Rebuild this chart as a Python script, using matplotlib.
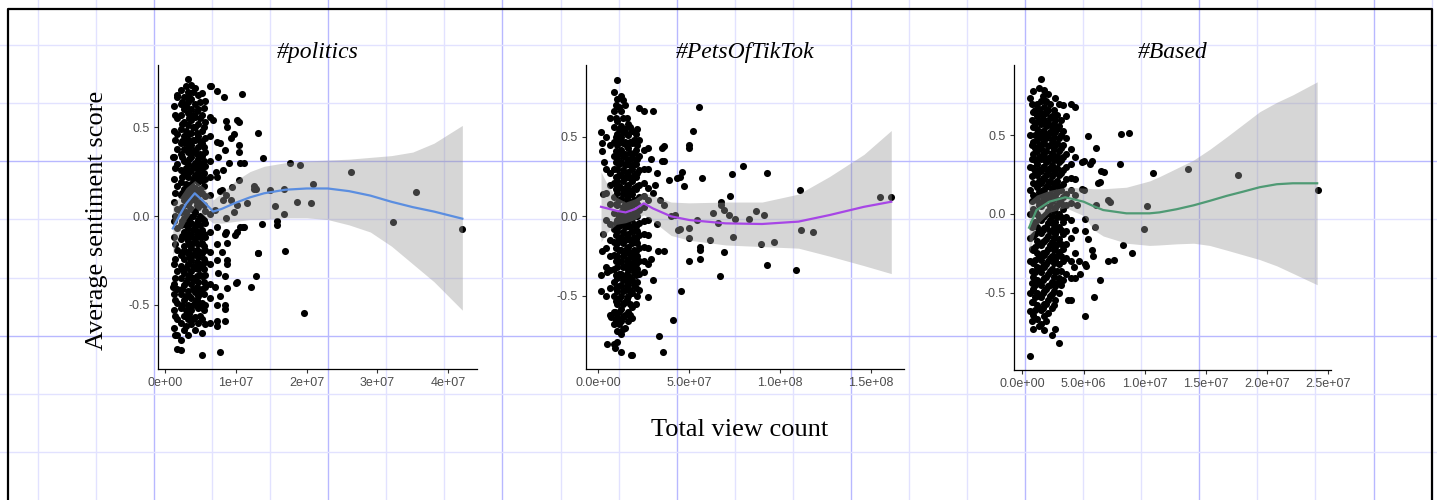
import numpy as np
import matplotlib
matplotlib.use("Agg")
import matplotlib.pyplot as plt

# ---------------- data (x in millions of views for #politics / #Based, x in 1e7 for #PetsOfTikTok)

# #politics : dense cluster, one list of sentiment values per view-count column
pol_col_x = [1.2, 1.45, 1.7, 2.2, 2.45, 2.7, 2.95, 3.2, 3.45, 3.7, 3.95, 4.2, 4.45, 4.7, 4.95,
             5.2, 5.45, 5.7, 6.3]
pol_col_y = [
    [0.62, 0.48, 0.33, 0.21, 0.08, -0.03, -0.12, -0.27, -0.38, -0.44, -0.53, -0.63],
    [0.57, 0.43, 0.27, 0.13, 0.0, -0.16, -0.24, -0.35, -0.47, -0.56],
    [0.68, 0.55, 0.46, 0.38, 0.29, 0.17, 0.04, -0.07, -0.19, -0.31, -0.41, -0.49, -0.58, -0.67, -0.75],
    [0.71, 0.63, 0.57, 0.49, 0.41, 0.35, 0.26, 0.19, 0.12, 0.02, -0.05, -0.13, -0.22, -0.28, -0.35, -0.44, -0.52, -0.6, -0.7],
    [0.64, 0.52, 0.42, 0.33, 0.22, 0.13, 0.05, -0.03, -0.11, -0.2, -0.3, -0.41, -0.5],
    [0.67, 0.6, 0.53, 0.45, 0.38, 0.31, 0.24, 0.15, 0.09, -0.01, -0.09, -0.17, -0.24, -0.32, -0.39, -0.47, -0.56, -0.64],
    [0.73, 0.62, 0.48, 0.41, 0.27, 0.18, 0.11, 0.02, -0.05, -0.12, -0.2, -0.29, -0.37, -0.45, -0.53, -0.62],
    [0.77, 0.7, 0.64, 0.58, 0.51, 0.43, 0.36, 0.29, 0.22, 0.14, 0.06, 0.0, -0.07, -0.14, -0.2, -0.27, -0.35, -0.42, -0.5, -0.58, -0.67],
    [0.67, 0.55, 0.46, 0.39, 0.32, 0.25, 0.16, 0.08, -0.02, -0.1, -0.16, -0.23, -0.33, -0.45, -0.55],
    [0.74, 0.66, 0.6, 0.54, 0.47, 0.4, 0.33, 0.26, 0.18, 0.11, 0.04, -0.04, -0.11, -0.18, -0.25, -0.31, -0.38, -0.46, -0.53, -0.61],
    [0.7, 0.57, 0.5, 0.43, 0.36, 0.28, 0.21, 0.14, 0.0, -0.08, -0.15, -0.22, -0.28, -0.35, -0.41, -0.5, -0.58],
    [0.72, 0.63, 0.56, 0.5, 0.43, 0.37, 0.3, 0.23, 0.16, 0.09, 0.02, -0.06, -0.13, -0.21, -0.29, -0.36, -0.43, -0.49, -0.57, -0.64],
    [0.59, 0.47, 0.35, 0.27, 0.2, 0.13, 0.06, -0.04, -0.1, -0.19, -0.26, -0.34, -0.4, -0.47],
    [0.68, 0.6, 0.52, 0.45, 0.39, 0.32, 0.25, 0.19, 0.12, 0.05, -0.02, -0.09, -0.16, -0.23, -0.3, -0.37, -0.45, -0.52, -0.6],
    [0.64, 0.55, 0.42, 0.35, 0.29, 0.22, 0.15, 0.08, 0.0, -0.05, -0.12, -0.2, -0.27, -0.33, -0.43, -0.5, -0.56],
    [0.69, 0.57, 0.48, 0.41, 0.34, 0.27, 0.2, 0.13, 0.07, -0.01, -0.08, -0.15, -0.21, -0.28, -0.34, -0.41, -0.49, -0.58, -0.66],
    [0.61, 0.5, 0.39, 0.31, 0.24, 0.17, 0.06, -0.02, -0.1, -0.17, -0.24, -0.3, -0.37, -0.44, -0.53],
    [0.65, 0.53, 0.44, 0.36, 0.28, 0.21, 0.11, 0.03, -0.04, -0.12, -0.19, -0.26, -0.33, -0.4, -0.5, -0.61],
    [0.73, 0.56, 0.45, 0.31, 0.22, 0.12, 0.01, -0.09, -0.2, -0.27, -0.38, -0.46, -0.6],
]
# #politics : scattered points (views in millions, sentiment)
pol_pts = [
    (6.45, 0.732), (7.39, 0.704), (8.33, 0.672), (10.9, 0.685), (6.83, 0.54), (8.57, 0.537),
    (10.5, 0.531), (8.8, 0.499), (9.79, 0.462), (13.1, 0.469), (7.77, 0.409), (9.32, 0.437),
    (10.5, 0.40), (13.8, 0.325), (11.1, 0.297), (7.53, 0.334), (17.6, 0.30), (19.1, 0.287),
    (26.3, 0.249), (35.5, 0.133), (20.9, 0.182), (16.8, 0.154), (14.8, 0.146), (12.5, 0.17),
    (12.7, 0.16), (12.9, 0.15), (11.6, 0.075), (15.5, 0.056), (18.6, 0.079), (20.6, 0.073),
    (16.8, 0.011), (32.2, -0.032), (42.0, -0.075), (13.7, -0.045), (15.8, -0.03), (15.8, -0.05),
    (11.0, -0.06), (10.6, -0.06), (9.9, -0.107), (10.1, -0.09), (8.6, -0.09), (8.7, -0.154),
    (13.1, -0.206), (16.9, -0.195), (12.9, -0.338), (12.2, -0.398), (10.0, -0.379), (8.8, -0.407),
    (19.7, -0.548), (8.5, -0.525), (8.5, -0.59), (7.3, -0.59), (7.3, -0.62), (7.77, -0.764),
    (5.18, -0.783), (2.26, -0.754), (1.41, -0.67), (8.7, -0.27), (8.7, -0.25), (9.4, 0.165),
    (10.5, 0.2), (8.57, -0.01), (9.8, 0.02), (10.1, 0.06), (9.3, 0.09), (8.6, 0.12), (7.7, 0.14),
    (8.2, 0.26), (7.2, 0.25), (9.1, 0.30), (1.08, 0.334), (1.65, 0.672), (1.08, -0.398),
    (7.3, 0.418), (8.47, 0.37), (7.3, 0.22), (8.0, 0.146), (8.2, 0.09), (7.06, 0.034),
    (7.3, -0.06), (8.5, -0.1), (7.3, -0.155), (8.0, -0.2), (7.3, -0.25), (7.5, -0.32),
    (8.5, -0.34), (7.06, -0.4), (7.8, -0.45), (8.5, -0.5), (7.3, -0.5), (10.1, 0.54),
    (10.4, 0.36), (10.6, 0.30), (12.6, 0.15), (11.1, -0.06), (13.2, -0.21), (10.1, -0.37),
]
pol_fit_x = [1.1, 2.0, 3.0, 4.2, 5.5, 6.8, 8, 10, 12, 14, 17, 20, 23, 26, 29, 32, 35, 38, 42]
pol_fit = [-0.07, 0.0, 0.07, 0.128, 0.08, 0.025, 0.04, 0.075, 0.105, 0.128, 0.148, 0.155, 0.155,
           0.14, 0.115, 0.08, 0.05, 0.025, -0.015]
pol_hi = [0.08, 0.1, 0.16, 0.2, 0.16, 0.09, 0.13, 0.2, 0.25, 0.28, 0.3, 0.31, 0.315, 0.32, 0.33,
          0.34, 0.36, 0.41, 0.51]
pol_lo = [-0.22, -0.1, -0.02, 0.05, 0.0, -0.04, -0.04, -0.03, -0.02, -0.02, -0.01, -0.01, -0.02,
          -0.05, -0.09, -0.17, -0.27, -0.37, -0.53]

# #PetsOfTikTok (views in 1e7)
pets_col_x = [0.45, 0.65, 0.85, 0.95, 1.05, 1.15, 1.25, 1.35, 1.45, 1.55, 1.65, 1.75, 1.85, 1.95,
              2.05, 2.15, 2.25, 2.5, 2.75]
pets_col_y = [
    [0.5, 0.3, 0.15, -0.02, -0.2, -0.32, -0.5],
    [0.62, 0.45, 0.27, 0.2, 0.08, -0.05, -0.15, -0.25, -0.34, -0.45, -0.62],
    [0.78, 0.66, 0.56, 0.47, 0.38, 0.3, 0.21, 0.12, 0.02, -0.08, -0.16, -0.24, -0.33, -0.41, -0.5, -0.6, -0.68, -0.8],
    [0.7, 0.62, 0.5, 0.41, 0.34, 0.25, 0.17, 0.08, -0.04, -0.12, -0.2, -0.28, -0.37, -0.45, -0.53, -0.65],
    [0.86, 0.74, 0.6, 0.52, 0.45, 0.37, 0.3, 0.22, 0.15, 0.07, -0.02, -0.09, -0.17, -0.25, -0.32, -0.39, -0.47, -0.55, -0.63, -0.72, -0.79],
    [0.69, 0.55, 0.48, 0.4, 0.33, 0.26, 0.19, 0.1, 0.0, -0.06, -0.14, -0.21, -0.29, -0.36, -0.44, -0.52, -0.6, -0.68],
    [0.76, 0.66, 0.57, 0.5, 0.42, 0.34, 0.26, 0.18, 0.11, 0.03, -0.05, -0.13, -0.21, -0.28, -0.36, -0.43, -0.5, -0.58, -0.66, -0.74, -0.85],
    [0.73, 0.62, 0.53, 0.46, 0.38, 0.29, 0.22, 0.14, 0.06, -0.02, -0.1, -0.17, -0.25, -0.32, -0.4, -0.47, -0.55, -0.63, -0.71],
    [0.7, 0.55, 0.47, 0.39, 0.32, 0.24, 0.16, 0.08, 0.0, -0.07, -0.15, -0.23, -0.31, -0.39, -0.46, -0.54, -0.62, -0.7],
    [0.62, 0.52, 0.44, 0.36, 0.27, 0.19, 0.11, 0.03, -0.05, -0.12, -0.2, -0.28, -0.36, -0.44, -0.52],
    [0.58, 0.51, 0.43, 0.35, 0.28, 0.2, 0.13, 0.05, -0.03, -0.11, -0.19, -0.27, -0.34, -0.42, -0.5, -0.6, -0.66],
    [0.56, 0.47, 0.4, 0.32, 0.24, 0.16, 0.09, 0.01, -0.07, -0.15, -0.23, -0.3, -0.38, -0.46, -0.55, -0.62],
    [0.54, 0.46, 0.37, 0.3, 0.22, 0.14, 0.07, -0.01, -0.09, -0.17, -0.25, -0.32, -0.4, -0.48, -0.57, -0.64, -0.87],
    [0.48, 0.4, 0.33, 0.26, 0.18, 0.1, 0.03, -0.05, -0.13, -0.21, -0.28, -0.35, -0.43],
    [0.52, 0.42, 0.33, 0.25, 0.17, 0.1, 0.02, -0.06, -0.14, -0.22, -0.3, -0.37, -0.45, -0.55],
    [0.55, 0.45, 0.36, 0.27, 0.19, 0.08, 0.0, -0.09, -0.17, -0.25, -0.33, -0.41, -0.5],
    [0.68, 0.48, 0.38, 0.29, 0.2, 0.12, 0.04, -0.04, -0.12, -0.2, -0.28, -0.36, -0.46],
    [0.66, 0.42, 0.3, 0.21, 0.13, 0.06, -0.03, -0.11, -0.19, -0.28, -0.35],
    [0.43, 0.3, 0.18, 0.1, -0.02, -0.12, -0.2, -0.3, -0.51],
]
pets_pts = [
    (5.55, 0.69), (5.2, 0.54), (5.0, 0.45), (5.0, 0.43), (5.71, 0.243), (4.6, 0.28), (4.5, 0.25),
    (4.3, 0.24), (4.7, 0.19), (3.5, 0.43), (3.5, 0.35), (3.0, 0.66), (7.93, 0.316), (9.29, 0.275),
    (7.33, 0.264), (7.24, 0.13), (11.08, 0.165), (15.48, 0.12), (16.08, 0.124), (6.74, 0.092),
    (6.74, 0.07), (6.28, 0.023), (6.92, 0.04), (7.18, 0.008), (8.65, 0.035), (9.12, 0.008),
    (7.51, -0.019), (8.28, -0.019), (6.56, -0.04), (5.4, -0.02), (11.14, -0.086), (11.81, -0.099),
    (6.14, -0.149), (7.38, -0.128), (9.67, -0.162), (8.94, -0.174), (6.92, -0.222), (4.97, -0.139),
    (5.0, -0.076), (5.59, -0.19), (5.59, -0.21), (5.6, -0.268), (5.0, -0.28), (6.69, -0.375),
    (9.25, -0.306), (10.85, -0.338), (4.54, -0.47), (4.12, -0.652), (3.35, -0.753), (3.57, -0.85),
    (4.4, -0.086), (4.5, -0.08), (4.0, 0.0), (4.2, 0.01), (0.15, 0.53), (0.2, 0.46), (0.2, 0.41),
    (0.3, 0.34), (0.24, 0.14), (0.24, -0.11), (0.2, -0.22), (0.15, -0.37), (0.5, -0.35),
    (0.15, -0.47), (0.7, -0.63), (0.9, -0.6), (0.5, -0.8), (0.9, -0.83), (1.8, -0.87), (3.6, 0.44),
    (3.6, 0.35), (3.9, 0.23), (3.6, 0.07), (3.6, -0.22), (3.3, -0.22), (2.9, -0.27), (3.2, -0.05),
    (3.4, 0.1), (3.0, 0.15), (3.2, 0.27), (3.0, -0.4), (2.9, 0.36), (3.1, 0.2),
]
pets_fit_x = [0.15, 0.5, 1.0, 1.5, 2.0, 2.5, 3.0, 4.0, 5.0, 7.0, 9.0, 11.0, 12.7, 14.6, 16.1]
pets_fit = [0.06, 0.05, 0.035, 0.025, 0.045, 0.082, 0.05, 0.0, -0.023, -0.044, -0.048, -0.033,
            0.008, 0.06, 0.092]
pets_hi = [0.28, 0.2, 0.12, 0.09, 0.11, 0.15, 0.13, 0.09, 0.085, 0.09, 0.09, 0.14, 0.25, 0.39, 0.54]
pets_lo = [-0.16, -0.1, -0.05, -0.04, -0.02, 0.01, -0.03, -0.12, -0.15, -0.18, -0.19, -0.2, -0.25,
           -0.31, -0.36]

# #Based (views in millions)
based_col_x = [0.6, 0.75, 0.9, 1.05, 1.2, 1.35, 1.5, 1.65, 1.8, 1.95, 2.1, 2.25, 2.4, 2.55, 2.7,
               2.85, 3.0, 3.15, 3.3, 3.6, 3.95, 4.3]
based_col_y = [
    [0.74, 0.5, 0.3, 0.15, 0.0, -0.15, -0.3, -0.5, -0.62, -0.9],
    [0.7, 0.6, 0.44, 0.35, 0.24, 0.08, -0.08, -0.22, -0.36, -0.44, -0.56, -0.68],
    [0.78, 0.65, 0.55, 0.46, 0.38, 0.29, 0.2, 0.12, 0.03, -0.06, -0.14, -0.23, -0.31, -0.4, -0.48, -0.56, -0.64, -0.73],
    [0.66, 0.58, 0.5, 0.42, 0.34, 0.27, 0.19, 0.11, 0.02, -0.05, -0.13, -0.21, -0.29, -0.37, -0.45, -0.53, -0.61],
    [0.7, 0.62, 0.54, 0.47, 0.4, 0.32, 0.25, 0.17, 0.09, 0.0, -0.08, -0.17, -0.25, -0.34, -0.42, -0.5, -0.58, -0.67],
    [0.8, 0.67, 0.6, 0.51, 0.44, 0.36, 0.28, 0.21, 0.14, 0.06, -0.02, -0.1, -0.19, -0.27, -0.35, -0.43, -0.52, -0.6, -0.71],
    [0.86, 0.72, 0.64, 0.57, 0.49, 0.42, 0.35, 0.27, 0.2, 0.12, 0.05, -0.04, -0.12, -0.2, -0.29, -0.37, -0.45, -0.53, -0.61, -0.7],
    [0.75, 0.63, 0.53, 0.45, 0.38, 0.3, 0.23, 0.15, 0.08, -0.02, -0.1, -0.18, -0.25, -0.33, -0.42, -0.5, -0.6],
    [0.79, 0.68, 0.6, 0.52, 0.45, 0.37, 0.3, 0.22, 0.14, 0.07, -0.01, -0.09, -0.17, -0.26, -0.34, -0.41, -0.49, -0.57, -0.65, -0.74],
    [0.72, 0.64, 0.56, 0.48, 0.4, 0.33, 0.25, 0.17, 0.1, 0.0, -0.08, -0.16, -0.24, -0.32, -0.4, -0.48, -0.57, -0.68],
    [0.76, 0.66, 0.58, 0.5, 0.43, 0.34, 0.27, 0.19, 0.11, 0.02, -0.06, -0.14, -0.22, -0.3, -0.38, -0.46, -0.55, -0.63],
    [0.7, 0.61, 0.52, 0.44, 0.36, 0.29, 0.21, 0.13, 0.05, -0.04, -0.11, -0.2, -0.28, -0.36, -0.45, -0.52],
    [0.62, 0.55, 0.47, 0.39, 0.31, 0.24, 0.16, 0.08, -0.01, -0.1, -0.18, -0.27, -0.35, -0.43, -0.51, -0.6, -0.77],
    [0.66, 0.57, 0.49, 0.41, 0.34, 0.26, 0.18, 0.1, 0.02, -0.07, -0.15, -0.23, -0.31, -0.4, -0.49, -0.58],
    [0.74, 0.6, 0.52, 0.44, 0.36, 0.28, 0.2, 0.12, 0.04, -0.05, -0.13, -0.21, -0.29, -0.37, -0.46, -0.55, -0.73],
    [0.63, 0.54, 0.45, 0.37, 0.29, 0.21, 0.14, 0.06, -0.02, -0.1, -0.19, -0.27, -0.36, -0.44],
    [0.7, 0.56, 0.48, 0.4, 0.33, 0.25, 0.17, 0.09, 0.0, -0.08, -0.16, -0.24, -0.32, -0.41, -0.5, -0.82],
    [0.6, 0.5, 0.42, 0.34, 0.26, 0.15, 0.07, -0.02, -0.1, -0.19, -0.27, -0.36, -0.45],
    [0.69, 0.53, 0.44, 0.36, 0.28, 0.19, 0.11, 0.03, -0.05, -0.13, -0.22, -0.3, -0.42],
    [0.62, 0.48, 0.38, 0.3, 0.22, 0.13, 0.06, -0.02, -0.11, -0.19, -0.28, -0.38],
    [0.7, 0.41, 0.32, 0.23, 0.15, 0.07, -0.04, -0.15, -0.3, -0.41, -0.55],
    [0.68, 0.36, 0.22, 0.12, -0.1, -0.25, -0.41],
]
based_pts = [
    (8.02, 0.507), (8.73, 0.513), (5.37, 0.496), (6.05, 0.417), (7.96, 0.318), (10.64, 0.263),
    (13.5, 0.284), (17.65, 0.248), (24.19, 0.153), (5.0, 0.339), (5.7, 0.339), (6.68, 0.269),
    (6.38, 0.206), (7.0, 0.089), (7.15, 0.078), (10.2, 0.049), (9.95, -0.097), (8.23, -0.197),
    (8.92, -0.25), (7.47, -0.29), (7.0, -0.3), (5.92, -0.08), (5.1, -0.034), (5.1, -0.11),
    (5.4, -0.16), (5.7, -0.23), (5.8, -0.27), (6.33, -0.42), (5.86, -0.53), (5.1, -0.646),
    (5.1, -0.32), (5.2, -0.33), (3.73, -0.55), (4.9, 0.16), (5.0, 0.15), (6.2, 0.2), (6.4, 0.27),
    (4.6, -0.3), (4.7, -0.38), (4.2, -0.34), (4.9, 0.33), (5.5, 0.32), (6.0, 0.06), (4.5, 0.06),
]
based_fit_x = [0.54, 1.15, 2.2, 3.5, 5.0, 5.8, 6.6, 8.5, 10.4, 11.2, 12.6, 14.0, 15.3, 16.7, 18.05,
               19.4, 20.8, 22.1, 24.1]
based_fit = [-0.087, 0.025, 0.078, 0.106, 0.078, 0.05, 0.025, 0.004, 0.004, 0.01, 0.03, 0.055,
             0.083, 0.115, 0.142, 0.17, 0.189, 0.195, 0.195]
based_hi = [0.08, 0.12, 0.15, 0.17, 0.165, 0.16, 0.16, 0.17, 0.21, 0.237, 0.29, 0.343, 0.41, 0.49,
            0.57, 0.65, 0.71, 0.757, 0.84]
based_lo = [-0.25, -0.07, 0.01, 0.04, -0.01, -0.1, -0.14, -0.186, -0.2, -0.197, -0.19, -0.186,
            -0.2, -0.23, -0.26, -0.29, -0.33, -0.377, -0.45]

titles = ["#politics", "#PetsOfTikTok", "#Based"]
x_units = [1e6, 1e7, 1e6]
x_ticks = [[0, 1e7, 2e7, 3e7, 4e7], [0, 5e7, 1e8, 1.5e8], [0, 5e6, 1e7, 1.5e7, 2e7, 2.5e7]]
x_ticklabels = [["0e+00", "1e+07", "2e+07", "3e+07", "4e+07"],
                ["0.0e+00", "5.0e+07", "1.0e+08", "1.5e+08"],
                ["0.0e+00", "5.0e+06", "1.0e+07", "1.5e+07", "2.0e+07", "2.5e+07"]]
y_ticks = [-0.5, 0.0, 0.5]
y_ticklabels = ["-0.5", "0.0", "0.5"]
line_colors = ["#5b8ee0", "#a746e6", "#4f9a74"]


def column_points(col_x, col_y):
    xs, ys = [], []
    for cx, cy in zip(col_x, col_y):
        xs += [cx] * len(cy)
        ys += cy
    return xs, ys


panels = []
for col_x, col_y, pts, fx, fy, hi, lo in [
        (pol_col_x, pol_col_y, pol_pts, pol_fit_x, pol_fit, pol_hi, pol_lo),
        (pets_col_x, pets_col_y, pets_pts, pets_fit_x, pets_fit, pets_hi, pets_lo),
        (based_col_x, based_col_y, based_pts, based_fit_x, based_fit, based_hi, based_lo)]:
    xs, ys = column_points(col_x, col_y)
    xs += [p[0] for p in pts]
    ys += [p[1] for p in pts]
    panels.append((xs, ys, fx, fy, hi, lo))

# ---------------- layout (pixel boxes of the three panels in a 1437x500 image)
W, H = 1437, 500
boxes = [(158, 477, 65, 369), (586, 904, 65, 369), (1014, 1331, 65, 370)]
xlims = [(-0.99e6, 44.07e6), (-0.676e7, 16.8e7), (-0.69e6, 25.23e6)]
ylims = [(-0.861, 0.850), (-0.960, 0.952), (-0.992, 0.947)]

fig = plt.figure(figsize=(W / 100, H / 100), dpi=100)
fig.patch.set_facecolor("white")

# background: page grid of the document the chart was pasted into
bg = fig.add_axes([0, 0, 1, 1], zorder=0)
bg.set_xlim(0, W)
bg.set_ylim(H, 0)
bg.axis("off")
for i, gx in enumerate(np.arange(37.9, W, 58.07)):
    major = (i % 3 == 2)
    bg.axvline(gx, color="#b8b8ff" if major else "#e2e2ff", lw=1.0)
for i, gy in enumerate(np.arange(44.8, H, 58.23)):
    major = (i % 3 == 2)
    bg.axhline(gy, color="#b8b8ff" if major else "#e2e2ff", lw=1.0)

tick_font = "Liberation Sans"
serif = "Liberation Serif"

for k, (xs, ys, fx, fy, hi, lo) in enumerate(panels):
    x0, x1, y0, y1 = boxes[k]
    ax = fig.add_axes([x0 / W, 1 - y1 / H, (x1 - x0) / W, (y1 - y0) / H], zorder=1)
    ax.set_facecolor("none")
    u = x_units[k]
    ax.scatter(np.array(xs) * u, ys, s=26, color="black", linewidths=0, zorder=2)
    ax.fill_between(np.array(fx) * u, lo, hi, color="#999999", alpha=0.4, linewidth=0, zorder=3)
    ax.plot(np.array(fx) * u, fy, color=line_colors[k], lw=1.6, zorder=4)

    ax.set_xlim(*xlims[k])
    ax.set_ylim(*ylims[k])
    ax.set_xticks(x_ticks[k])
    ax.set_xticklabels(x_ticklabels[k])
    ax.set_yticks(y_ticks)
    ax.set_yticklabels(y_ticklabels)
    for sp in ["top", "right"]:
        ax.spines[sp].set_visible(False)
    for sp in ["left", "bottom"]:
        ax.spines[sp].set_color("black")
        ax.spines[sp].set_linewidth(0.9)
    ax.tick_params(length=3, width=0.8, color="#333333", labelcolor="#4d4d4d",
                   labelsize=9, pad=3)
    for lab in ax.get_xticklabels() + ax.get_yticklabels():
        lab.set_fontfamily(tick_font)
    ax.set_title(titles[k], family=serif, style="italic", fontsize=17, pad=5)

fig.text(97 / W, 1 - 220 / H, "Average sentiment score", family=serif, fontsize=19,
         rotation=90, ha="center", va="center")
fig.text(740 / W, 1 - 430 / H, "Total view count", family=serif, fontsize=19,
         ha="center", va="center")

# black frame around the figure (page box)
top = fig.add_axes([0, 0, 1, 1], zorder=5)
top.set_xlim(0, W)
top.set_ylim(H, 0)
top.axis("off")
top.plot([8, 8, 1432, 1432], [H + 5, 9, 9, H + 5], color="black", lw=1.6, clip_on=False)

fig.savefig("out.png", dpi=100, facecolor="white")
